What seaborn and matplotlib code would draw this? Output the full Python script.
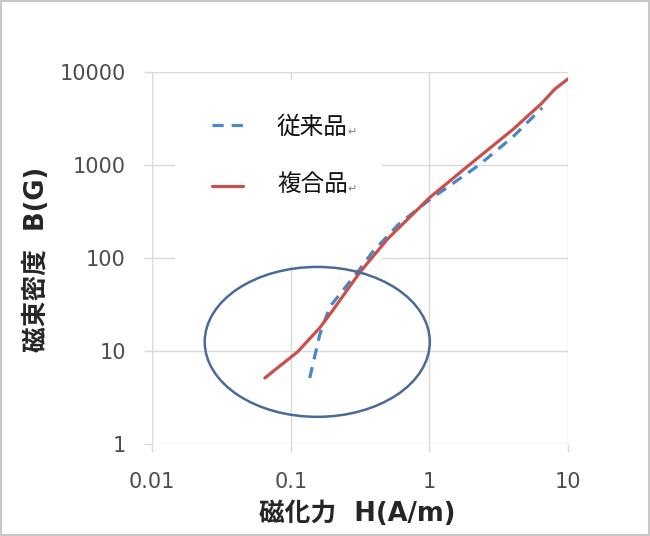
import numpy as np
import pandas as pd
import matplotlib
matplotlib.use("Agg")
import matplotlib.pyplot as plt
import seaborn as sns
from matplotlib.patches import Ellipse, Rectangle

# Data
conv_H = [0.137, 0.162, 0.191, 0.30, 0.39, 0.60, 1.0, 2.29, 4.0, 6.5]
conv_B = [5.1, 15.0, 29.7, 69, 116, 230, 420, 1000, 2000, 4100]
comp_H = [0.065, 0.112, 0.162, 0.20, 0.313, 0.50, 1.0, 1.94, 4.0, 6.5, 8.0, 10.0]
comp_B = [5.1, 9.75, 17.7, 27, 69, 160, 442, 1000, 2400, 4640, 6500, 8400]
series_names = ["従来品", "複合品"]
x_ticks = [0.01, 0.1, 1, 10]
x_tick_labels = ["0.01", "0.1", "1", "10"]
y_ticks = [1, 10, 100, 1000, 10000]
y_tick_labels = ["1", "10", "100", "1000", "10000"]

df = pd.concat([
    pd.DataFrame({"H": conv_H, "B": conv_B, "series": series_names[0]}),
    pd.DataFrame({"H": comp_H, "B": comp_B, "series": series_names[1]}),
])

sns.set_theme(style="white")
plt.rcParams['font.family'] = ['DejaVu Sans', 'Noto Sans CJK JP']

fig = plt.figure(figsize=(6.5, 5.36), dpi=100)
ax = fig.add_axes([0.234, 0.172, 0.640, 0.694])
ax.set_axisbelow(True)

palette = {series_names[0]: "#4a86c8", series_names[1]: "#c9504d"}
sns.lineplot(data=df, x="H", y="B", hue="series", style="series",
             dashes={series_names[0]: (3.5, 2.5), series_names[1]: ""},
             palette=palette, linewidth=2.3, ax=ax, sort=False,
             estimator=None, legend=False, zorder=3)

ax.set_xscale("log")
ax.set_yscale("log")
ax.set_xlim(0.01, 10)
ax.set_ylim(1, 10000)
ax.set_xticks(x_ticks)
ax.set_xticklabels(x_tick_labels)
ax.set_yticks(y_ticks)
ax.set_yticklabels(y_tick_labels)
ax.minorticks_off()
ax.grid(True, color="#d9d9d9", linewidth=1)
for s in ax.spines.values():
    s.set_visible(False)
ax.tick_params(axis="both", length=6, width=1, color="#d9d9d9",
               labelsize=15, labelcolor="#4d4d4d")
ax.tick_params(axis="y", pad=13, left=True)
ax.tick_params(axis="x", pad=14, bottom=True)

ax.set_xlabel("磁化力  H(A/m)", fontsize=18.5, fontweight="bold", color="#262626")
ax.set_ylabel("磁束密度  B(G)", fontsize=18.5, fontweight="bold", color="#262626")
ax.xaxis.set_label_coords(0.493, -0.153)
ax.yaxis.set_label_coords(-0.245, 0.497)

# legend area (white box covering gridlines)
ax.add_patch(Rectangle((0.055, 0.478), 0.498, 0.50, transform=ax.transAxes,
                       facecolor="white", edgecolor="none", zorder=1))
ax.plot([0.144, 0.219], [0.858, 0.858], transform=ax.transAxes,
        color=palette[series_names[0]], linewidth=2.3, dashes=(3.5, 2.5), zorder=3)
ax.plot([0.144, 0.219], [0.694, 0.694], transform=ax.transAxes,
        color=palette[series_names[1]], linewidth=2.3, zorder=3)
for yy, name in zip([0.850, 0.697], series_names):
    ax.text(0.300, yy, name, transform=ax.transAxes, fontsize=17,
            va="center", ha="left", color="#111111", zorder=3,
            family=['Noto Sans CJK JP'])
    ax.text(0.470, yy - 0.012, "↵", transform=ax.transAxes, fontsize=8,
            va="center", ha="left", color="#808080", zorder=3,
            family=['DejaVu Sans'])

# highlight ellipse
ax.add_patch(Ellipse((0.397, 0.274), 0.541, 0.403, transform=ax.transAxes,
                     facecolor="none", edgecolor="#4a6a98", linewidth=1.8, zorder=4))

# outer frame
fig.patches.append(Rectangle((0.002, 0.002), 0.996, 0.996, transform=fig.transFigure,
                             facecolor="none", edgecolor="#c8c8c8", linewidth=1.5))

fig.savefig("out.png", dpi=100)
